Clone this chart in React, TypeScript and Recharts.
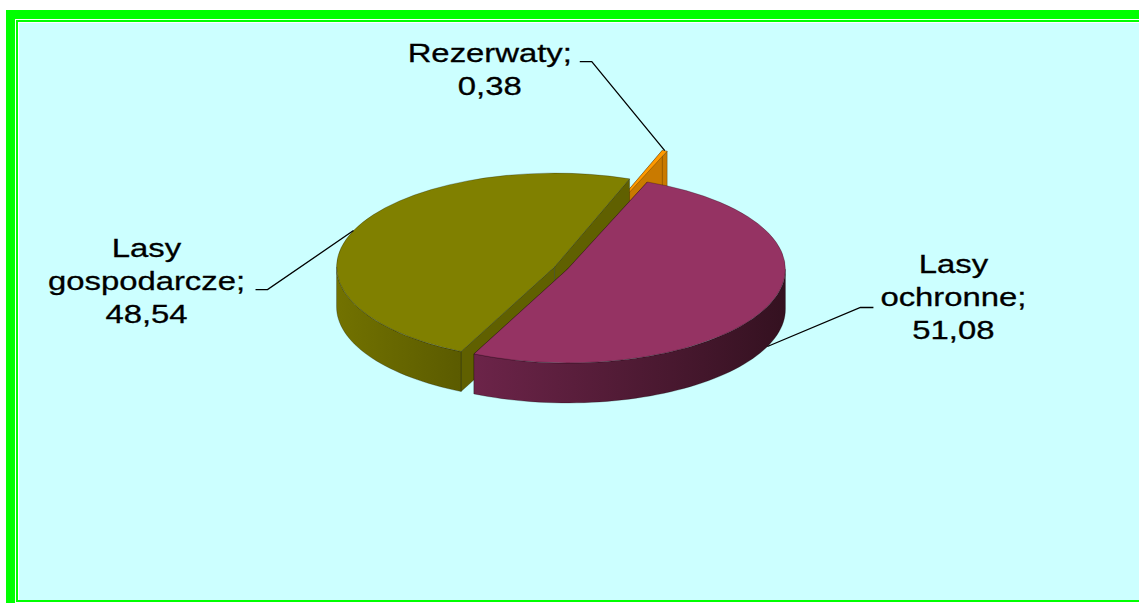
import { PieChart, Pie, Cell } from "recharts";

// udział powierzchni lasów wg kategorii (%)
const categories = ["Rezerwaty", "Lasy gospodarcze", "Lasy ochronne"];
const values = [0.38, 48.54, 51.08];

const topColors = ["#ff9900", "#808000", "#953363"];
const wallColors = [
  ["#d98300", "#b56d00"],
  ["#727200", "#5b5b00"],
  ["#6c2449", "#341120"],
];
const cutColors = ["#c97a00", "#606000", "#5a1d3b"];
const explode = [74, 7, 7];

// label placement relative to the slice anchor
const labelLayout = [
  { onWall: false, elbow: [-73, -89], tick: -12, text: [-102, 0] },
  { onWall: false, elbow: [-86, 59], tick: -12, text: [-121, -33] },
  { onWall: true, elbow: [93, -39], tick: 13, text: [93, -34] },
];

const W = 1139;
const H = 603;
const CX = 561;
const CY = 268;
const R = 218;
const K = 0.43; // ellipse squash
const DEPTH = 40;
const RAD = Math.PI / 180;

const data = categories.map((name, i) => ({ name, value: values[i] }));

function sliceIndex(props: any) {
  const n = props.name ?? props.payload?.name;
  const i = categories.indexOf(n);
  return i >= 0 ? i : props.index ?? 0;
}

function sliceOrigin(props: any, idx: number) {
  const mid = (props.startAngle + props.endAngle) / 2;
  const e = explode[idx];
  return {
    ox: Number(props.cx) + e * Math.cos(mid * RAD),
    oy: Number(props.cy) - e * K * Math.sin(mid * RAD),
    mid,
  };
}

function Slice3D(props: any) {
  const idx = sliceIndex(props);
  const r = Number(props.outerRadius);
  const lo = Math.min(props.startAngle, props.endAngle);
  const hi = Math.max(props.startAngle, props.endAngle);
  const { ox, oy } = sliceOrigin(props, idx);
  const pt = (a: number, z = 0) => [ox + r * Math.cos(a * RAD), oy - r * K * Math.sin(a * RAD) + z];
  const cut = cutColors[idx];
  const gid = `wall-${idx}`;

  const faces = [lo, hi].map((a) => {
    const p = pt(a);
    const q = pt(a, DEPTH);
    return `${ox},${oy} ${p[0]},${p[1]} ${q[0]},${q[1]} ${ox},${oy + DEPTH}`;
  });

  // front-facing part of the rim
  const walls: string[] = [];
  for (let n = -1; n <= 1; n++) {
    const s = Math.max(lo, 180 + 360 * n);
    const t = Math.min(hi, 360 + 360 * n);
    if (t <= s) continue;
    const steps = Math.max(2, Math.ceil((t - s) / 2));
    const top: number[][] = [];
    const bot: number[][] = [];
    for (let k = 0; k <= steps; k++) {
      const a = s + ((t - s) * k) / steps;
      top.push(pt(a));
      bot.push(pt(a, DEPTH));
    }
    walls.push([...top, ...bot.reverse()].map((p) => `${p[0]},${p[1]}`).join(" "));
  }

  const p0 = pt(lo);
  const p1 = pt(hi);
  const large = hi - lo > 180 ? 1 : 0;
  const topPath = `M${ox},${oy} L${p0[0]},${p0[1]} A${r},${r * K} 0 ${large} 0 ${p1[0]},${p1[1]} Z`;

  return (
    <g>
      <defs>
        <linearGradient id={gid} x1="0" y1="0" x2="1" y2="0">
          <stop offset="0%" stopColor={wallColors[idx][0]} />
          <stop offset="100%" stopColor={wallColors[idx][1]} />
        </linearGradient>
      </defs>
      {faces.map((f, i) => (
        <polygon key={`f${i}`} points={f} fill={cut} stroke="rgba(0,0,0,0.35)" strokeWidth={0.7} />
      ))}
      {walls.map((w, i) => (
        <polygon key={`w${i}`} points={w} fill={`url(#${gid})`} stroke="rgba(0,0,0,0.35)" strokeWidth={0.7} />
      ))}
      <path d={topPath} fill={topColors[idx]} stroke="rgba(0,0,0,0.3)" strokeWidth={0.8} />
    </g>
  );
}

function renderLabel(props: any) {
  const idx = sliceIndex(props);
  const cfg = labelLayout[idx];
  const r = Number(props.outerRadius);
  const { ox, oy, mid } = sliceOrigin(props, idx);
  const ax = ox + r * Math.cos(mid * RAD);
  const ay = oy - r * K * Math.sin(mid * RAD) + (cfg.onWall ? DEPTH : 0);
  const ex = ax + cfg.elbow[0];
  const ey = ay + cfg.elbow[1];
  const tx = ex + cfg.text[0];
  const ty = ey + cfg.text[1];
  const parts = categories[idx].split(" ");
  parts[parts.length - 1] += ";";
  const lines = [...parts, values[idx].toFixed(2).replace(".", ",")];
  return (
    <g>
      <polyline
        points={`${ax},${ay} ${ex},${ey} ${ex + cfg.tick},${ey}`}
        fill="none"
        stroke="#000"
        strokeWidth={1.3}
      />
      <text
        transform={`translate(${tx},${ty}) scale(1.24,1)`}
        textAnchor="middle"
        fontSize={26.5}
        fontFamily="'Liberation Sans', Arial, sans-serif"
        fill="#000"
        stroke="#000"
        strokeWidth={0.3}
      >
        {lines.map((l, i) => (
          <tspan key={i} x={0} y={i * 33}>
            {l}
          </tspan>
        ))}
      </text>
    </g>
  );
}

const box = (left: number, top: number, width: number, height: number, bg: string) => ({
  position: "absolute" as const,
  left,
  top,
  width,
  height,
  background: bg,
});

export default function App() {
  return (
    <div style={{ position: "fixed", left: 0, top: 0, width: W, height: H, background: "#fff", overflow: "hidden" }}>
      <div style={box(6, 10, W - 6, H - 10, "#00ff00")} />
      <div style={box(15, 19, W - 15, H - 19, "#ffffff")} />
      <div style={box(16, 20, W - 16, 582, "#00ff00")} />
      <div style={box(18, 22, W - 18, 578, "#ffffff")} />
      <div style={box(19, 23, W - 19, 577, "#ccffff")} />
      <div style={{ position: "absolute", left: 0, top: 0 }}>
        <PieChart width={W} height={H} margin={{ top: 0, right: 0, bottom: 0, left: 0 }}>
          <Pie
            data={data}
            dataKey="value"
            nameKey="name"
            cx={CX}
            cy={CY}
            outerRadius={R}
            startAngle={68.5}
            endAngle={428.5}
            stroke="none"
            isAnimationActive={false}
            labelLine={false}
            label={renderLabel}
            shape={Slice3D}
            inactiveShape={Slice3D}
            activeShape={Slice3D}
          >
            {data.map((d, i) => (
              <Cell key={d.name} fill={topColors[i]} />
            ))}
          </Pie>
        </PieChart>
      </div>
    </div>
  );
}
